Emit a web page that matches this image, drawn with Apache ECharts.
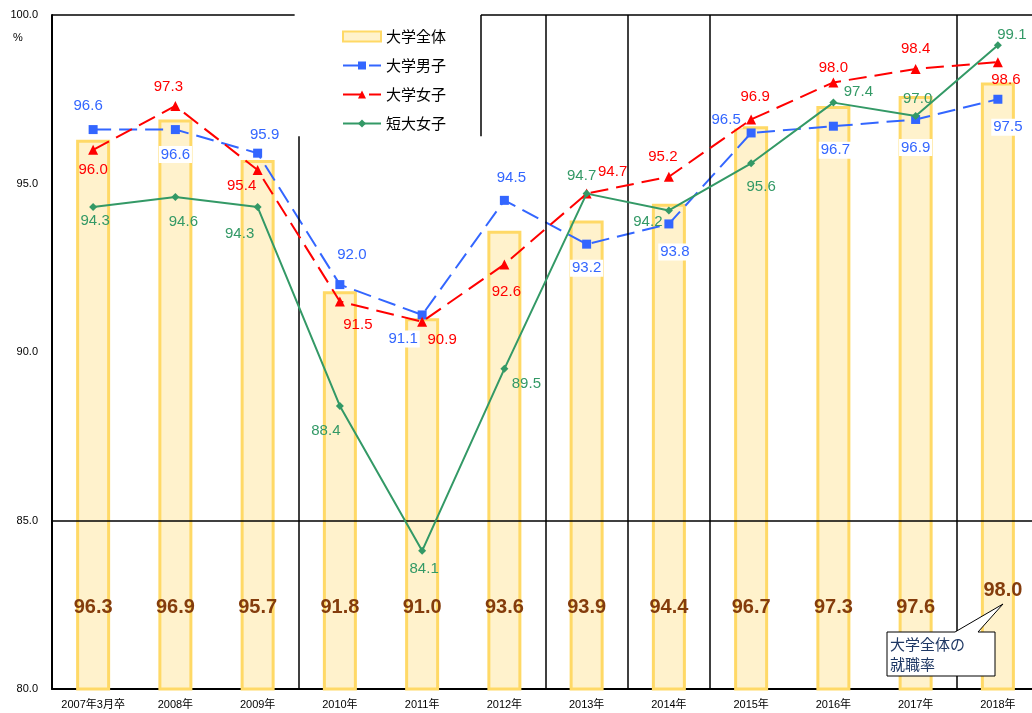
<!DOCTYPE html>
<html>
<head>
<meta charset="utf-8">
<script src="https://cdn.jsdelivr.net/npm/echarts@6/dist/echarts.min.js"></script>
<style>
  html, body { margin: 0; padding: 0; background: #fff; }
  #chart { width: 1032px; height: 713px; }
</style>
</head>
<body>
<div id="chart"></div>
<script>
// data
const years = ['2007年3月卒', '2008年', '2009年', '2010年', '2011年', '2012年',
  '2013年', '2014年', '2015年', '2016年', '2017年', '2018年'];
const univAll = [96.3, 96.9, 95.7, 91.8, 91.0, 93.6, 93.9, 94.4, 96.7, 97.3, 97.6, 98.0];
const univMale = [96.6, 96.6, 95.9, 92.0, 91.1, 94.5, 93.2, 93.8, 96.5, 96.7, 96.9, 97.5];
const univFemale = [96.0, 97.3, 95.4, 91.5, 90.9, 92.6, 94.7, 95.2, 96.9, 98.0, 98.4, 98.6];
const juniorFemale = [94.3, 94.6, 94.3, 88.4, 84.1, 89.5, 94.7, 94.2, 95.6, 97.4, 97.0, 99.1];

// label placement (px from the marker centre)
const maleOffsets = [[-5, -24], [0, 25], [7, -18], [12, -30], [-19, 24], [7, -22],
  [0, 24], [6, 28], [-25, -13], [2, 24], [0, 28], [10, 28]];
const femaleOffsets = [[0, 20], [-7, -19], [-16, 16], [18, 23], [20, 18], [2, 27],
  [26, -22], [-6, -20], [4, -23], [0, -15], [0, -20], [8, 18]];
const juniorOffsets = [[2, 14], [8, 25], [-18, 27], [-14, 25], [2, 18], [22, 15],
  [-5, -18], [-21, 11], [10, 24], [25, -11], [2, -17], [14, -10]];
const barOffsets = [[0, 0], [0, 0], [0, 0], [0, 0], [0, 0], [0, 0],
  [0, 0], [0, 0], [0, 0], [0, 0], [0, 0], [5, -17]];

// frame pieces, in category units along x (0..12)
const dividers = [6, 7, 8, 11];

const font = '"Liberation Sans", Arial, "Noto Sans CJK JP", sans-serif';
const cjk = '"Noto Sans CJK JP", sans-serif';

let myChart = echarts.init(document.getElementById('chart'));

function withOffsets(values, offsets) {
  return values.map((v, i) => ({ value: v, label: { offset: offsets[i] } }));
}

function lineLabel(color, extra) {
  return Object.assign({
    show: true,
    position: 'inside',
    color: color,
    fontSize: 15,
    fontFamily: font,
    textBorderWidth: 0,
    formatter: p => p.value.toFixed(1)
  }, extra || {});
}

let frameLines = [
  [{ coord: [0, 100] }, { coord: [2.95, 100] }],
  [{ coord: [5.215, 100] }, { coord: [12, 100] }],
  [{ coord: [5.215, 96.4] }, { coord: [5.215, 100] }],
  [{ coord: [3, 80] }, { coord: [3, 96.4] }],
  [{ coord: [0, 85] }, { coord: [12, 85] }]
];
dividers.forEach(d => frameLines.push([{ coord: [d, 80] }, { coord: [d, 100] }]));

let option = {
  animation: false,
  backgroundColor: '#fff',
  grid: { left: 52, top: 15, width: 987, height: 674, outerBoundsMode: 'none', containLabel: false },
  legend: {
    orient: 'vertical',
    left: 337,
    top: 24,
    itemGap: 14,
    itemWidth: 38,
    itemHeight: 10,
    textStyle: { fontSize: 15, fontFamily: cjk, color: '#000' },
    data: [
      { name: '大学全体', icon: 'rect' },
      '大学男子', '大学女子', '短大女子'
    ]
  },
  xAxis: [
    {
      type: 'category',
      data: years,
      boundaryGap: true,
      axisLine: { lineStyle: { color: '#000', width: 2 } },
      axisTick: { show: false },
      axisLabel: { color: '#000', fontSize: 11, fontFamily: font, margin: 10, interval: 0 },
      splitLine: { show: false }
    },
    { type: 'value', min: 0, max: 12, show: false }
  ],
  yAxis: {
    type: 'value',
    min: 80,
    max: 100,
    interval: 5,
    axisLine: { show: true, lineStyle: { color: '#000', width: 2 } },
    axisTick: { show: false },
    splitLine: { show: false },
    axisLabel: {
      color: '#000', fontSize: 11, fontFamily: font, margin: 14,
      formatter: v => v.toFixed(1)
    }
  },
  series: [
    {
      name: 'frame',
      type: 'line',
      xAxisIndex: 1,
      data: [[0, 80]],
      symbol: 'none',
      lineStyle: { opacity: 0 },
      silent: true,
      z: 1,
      markLine: {
        silent: true,
        symbol: 'none',
        label: { show: false },
        lineStyle: { color: '#000', width: 1.5, type: 'solid' },
        data: frameLines
      }
    },
    {
      name: '大学全体',
      type: 'bar',
      data: withOffsets(univAll, barOffsets),
      barWidth: 34,
      z: 2,
      itemStyle: { color: '#FFF2CC', borderColor: '#FFD966', borderWidth: 3 },
      label: {
        show: true,
        position: 'insideBottom',
        distance: 73,
        color: '#843C0C',
        fontSize: 20,
        fontWeight: 'bold',
        fontFamily: font,
        formatter: p => p.value.toFixed(1)
      }
    },
    {
      name: '大学男子',
      type: 'line',
      data: withOffsets(univMale, maleOffsets),
      z: 4,
      symbol: 'rect',
      symbolSize: 9,
      color: '#3366FF',
      lineStyle: { color: '#3366FF', width: 2, type: [18, 8] },
      itemStyle: { color: '#3366FF' },
      label: lineLabel('#3366FF', { backgroundColor: '#fff', padding: [1, 2] })
    },
    {
      name: '大学女子',
      type: 'line',
      data: withOffsets(univFemale, femaleOffsets),
      z: 5,
      symbol: 'triangle',
      symbolSize: 10,
      color: '#FF0000',
      lineStyle: { color: '#FF0000', width: 2, type: [18, 8] },
      itemStyle: { color: '#FF0000' },
      label: lineLabel('#FF0000')
    },
    {
      name: '短大女子',
      type: 'line',
      data: withOffsets(juniorFemale, juniorOffsets),
      z: 6,
      symbol: 'diamond',
      symbolSize: 8,
      color: '#339966',
      lineStyle: { color: '#339966', width: 2 },
      itemStyle: { color: '#339966' },
      label: lineLabel('#339966')
    }
  ],
  graphic: [
    {
      type: 'text',
      left: 13,
      top: 32,
      style: { text: '%', font: '11px ' + font, fill: '#000' }
    },
    {
      type: 'polygon',
      zlevel: 1,
      z: 100,
      shape: {
        points: [[887, 632], [955, 632], [1003, 604], [978, 632], [995, 632],
          [995, 676], [887, 676]]
      },
      style: { fill: '#fff', stroke: '#000', lineWidth: 1 }
    },
    {
      type: 'text',
      zlevel: 1,
      z: 101,
      x: 890,
      y: 634,
      style: {
        text: '大学全体の\n就職率',
        font: '15px ' + cjk,
        fill: '#1F3864',
        lineHeight: 20
      }
    }
  ]
};

myChart.setOption(option);
</script>
</body>
</html>
